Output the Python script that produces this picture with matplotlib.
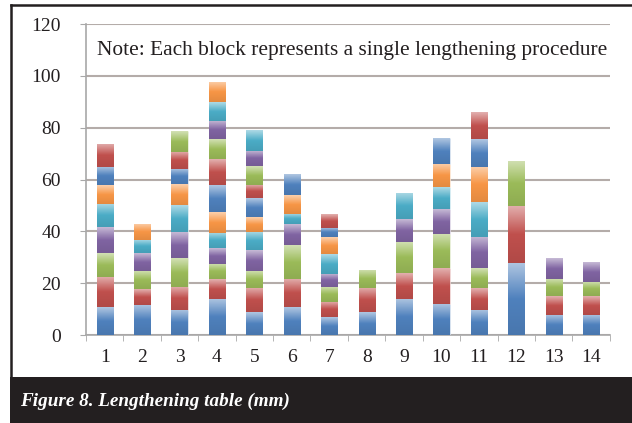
import numpy as np
from matplotlib import pyplot as plt
from matplotlib.patches import Rectangle
from matplotlib.colors import LinearSegmentedColormap, to_rgb

plt.rcParams["font.family"] = ["Liberation Serif", "DejaVu Serif"]

# 肢体编号（横轴）
cases = [str(i) for i in range(1, 15)]

# 每次延长手术的长度（mm），第 k 个数组 = 第 k 次手术，0 表示无此手术
proc_1 = [10.7, 11.7, 9.8, 13.9, 8.7, 10.7, 6.8, 8.7, 13.9, 12.0, 9.8, 27.8, 7.8, 7.8]
proc_2 = [11.8, 6.0, 8.9, 7.7, 9.3, 10.9, 6.0, 9.3, 9.9, 13.8, 8.2, 22.1, 7.1, 7.1]
proc_3 = [9.0, 7.1, 11.1, 6.0, 6.8, 13.1, 5.8, 7.1, 12.2, 13.2, 7.7, 17.4, 6.9, 5.7]
proc_4 = [10.0, 6.7, 9.9, 5.9, 8.0, 8.1, 5.1, 0, 8.7, 9.6, 12.2, 0, 8.1, 7.5]
proc_5 = [9.0, 5.1, 10.3, 6.0, 7.1, 3.9, 7.7, 0, 10.3, 8.4, 13.5, 0, 0, 0]
proc_6 = [7.3, 6.2, 8.1, 8.0, 5.5, 7.3, 6.4, 0, 0, 9.0, 13.6, 0, 0, 0]
proc_7 = [7.1, 0, 5.8, 10.3, 7.3, 8.1, 3.6, 0, 0, 10.0, 10.8, 0, 0, 0]
proc_8 = [9.0, 0, 6.9, 10.0, 5.3, 0, 5.4, 0, 0, 0, 10.3, 0, 0, 0]
proc_9 = [0, 0, 8.1, 7.7, 7.1, 0, 0, 0, 0, 0, 0, 0, 0, 0]
proc_10 = [0, 0, 0, 7.1, 6.0, 0, 0, 0, 0, 0, 0, 0, 0, 0]
proc_11 = [0, 0, 0, 7.3, 8.0, 0, 0, 0, 0, 0, 0, 0, 0, 0]
proc_12 = [0, 0, 0, 7.8, 0, 0, 0, 0, 0, 0, 0, 0, 0, 0]

procedures = [proc_1, proc_2, proc_3, proc_4, proc_5, proc_6,
              proc_7, proc_8, proc_9, proc_10, proc_11, proc_12]

# Excel 2007 默认配色，循环使用
palette = ['#4F81BD', '#C0504D', '#9BBB59', '#8064A2', '#4BACC6', '#F79646']

note = "Note: Each block represents a single lengthening procedure"
caption = "Figure 8. Lengthening table (mm)"


def grad_cmap(c):
    # 上浅下深的渐变
    base = np.array(to_rgb(c))
    top = base + (1 - base) * 0.55
    bottom = base * 0.92
    return LinearSegmentedColormap.from_list('g', [bottom, base, top])


fig = plt.figure(figsize=(6.32, 4.23), dpi=100)
ax = fig.add_axes([0.136, 0.208, 0.829, 0.735])

x = np.arange(1, len(cases) + 1)
bottom = np.zeros(len(cases))
grad = np.linspace(1, 0, 64).reshape(-1, 1)
for k, vals in enumerate(procedures):
    h = np.array(vals, dtype=float)
    m = h > 0
    color = palette[k % len(palette)]
    bars = ax.bar(x[m], h[m], bottom=bottom[m], width=0.43,
                  color=color, edgecolor='white', linewidth=0.4, zorder=3)
    cm = grad_cmap(color)
    for b in bars:
        bx, by, bw, bh = b.get_x(), b.get_y(), b.get_width(), b.get_height()
        im = ax.imshow(grad, extent=[bx, bx + bw, by, by + bh], aspect='auto',
                       cmap=cm, vmin=0, vmax=1, interpolation='bilinear', zorder=3.5)
        im.set_clip_path(b)
    bottom += h

ax.set_xlim(0.5, len(cases) + 0.5)
ax.set_ylim(0, 120)
ax.set_yticks(range(0, 121, 20))
ax.set_xticks(x)
ax.set_xticklabels(cases)
ax.set_xticks(np.arange(0.5, len(cases) + 1), minor=True)

ax.yaxis.grid(True, color='#b4aca9', linewidth=1.5, zorder=0)
for s in ['top', 'right']:
    ax.spines[s].set_visible(False)
for s in ['left', 'bottom']:
    ax.spines[s].set_color('#a8a8a8')
    ax.spines[s].set_linewidth(1.2)

ax.tick_params(axis='x', which='major', length=0, pad=10,
               labelsize=14, labelcolor='#231f20')
ax.tick_params(axis='x', which='minor', length=4, color='#a8a8a8', direction='out')
ax.tick_params(axis='y', length=4, color='#a8a8a8', pad=14,
               labelsize=14, labelcolor='#231f20')

ax.text(0.021, 110, note, transform=ax.get_yaxis_transform(),
        ha='left', va='center', fontsize=15.4, color='#231f20')

# 外框与标题栏
fig.add_artist(Rectangle((10 / 632, 0), 1, 46 / 423, transform=fig.transFigure,
                         facecolor='#231f20', edgecolor='none'))
fig.add_artist(plt.Line2D([11 / 632, 11 / 632], [46 / 423, 418 / 423],
                          transform=fig.transFigure, color='#231f20', linewidth=1.8))
fig.add_artist(plt.Line2D([11 / 632, 1], [418 / 423, 418 / 423],
                          transform=fig.transFigure, color='#231f20', linewidth=1.8))
fig.text(20 / 632, 22 / 423, caption, ha='left', va='center', fontsize=13.8,
         fontweight='bold', fontstyle='italic', color='white')

fig.savefig("out.png", dpi=100)
